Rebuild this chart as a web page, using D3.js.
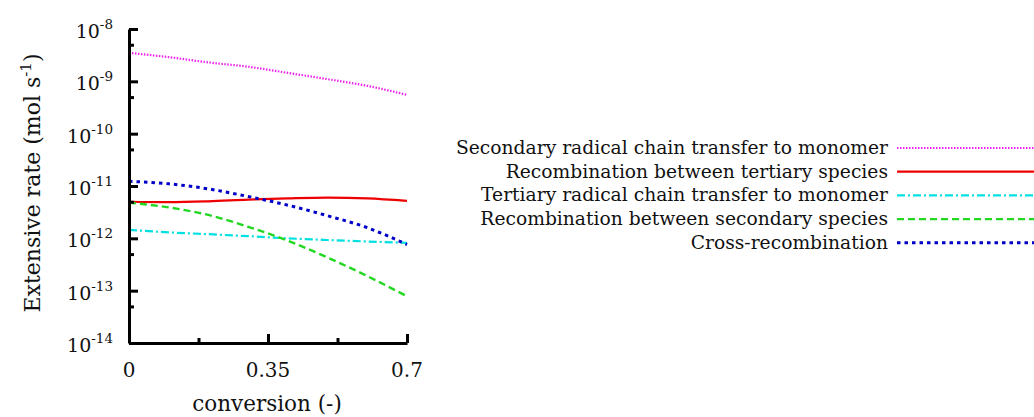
<!DOCTYPE html>
<html>
<head>
<meta charset="utf-8">
<script src="https://cdn.jsdelivr.net/npm/d3@7"></script>
<style>
  body { margin: 0; background: #fff; }
  svg { display: block; }
  text { font-family: "DejaVu Serif", serif; fill: #111; }
</style>
</head>
<body>
<svg id="chart" width="1034" height="417"></svg>
<script>
// Data
const conversion = [0, 0.1, 0.2, 0.3, 0.4, 0.5, 0.6, 0.7];

const secTransfer = [3.5e-9, 2.9e-9, 2.3e-9, 1.9e-9, 1.45e-9, 1.1e-9, 8.2e-10, 5.5e-10];
const terRecomb = [5.0e-12, 4.9e-12, 5.1e-12, 5.5e-12, 5.8e-12, 6.0e-12, 5.8e-12, 5.2e-12];
const terTransfer = [1.45e-12, 1.3e-12, 1.2e-12, 1.1e-12, 1.0e-12, 9.3e-13, 8.7e-13, 8.2e-13];
const secRecomb = [4.8e-12, 3.9e-12, 2.8e-12, 1.66e-12, 9.0e-13, 4.3e-13, 1.9e-13, 7.8e-14];
const crossRecomb = [1.23e-11, 1.1e-11, 8.8e-12, 6.3e-12, 4.3e-12, 2.7e-12, 1.6e-12, 7.6e-13];

const seriesNames = [
  "Secondary radical chain transfer to monomer",
  "Recombination between tertiary species",
  "Tertiary radical chain transfer to monomer",
  "Recombination between secondary species",
  "Cross-recombination"
];

const yTickExps = [-8, -9, -10, -11, -12, -13, -14];
const xTicks = [0, 0.35, 0.7];
const xTickLabels = ["0", "0.35", "0.7"];

// styles per series
const styles = [
  {color: "#ee22ee", dash: "1.5,1.5", width: 2.2},
  {color: "#ee0000", dash: null, width: 2.2},
  {color: "#00e0e0", dash: "8,3,2,3", width: 2.2},
  {color: "#22d822", dash: "7,4", width: 2.4},
  {color: "#0000c8", dash: "3.5,4", width: 3}
];

const seriesValues = [secTransfer, terRecomb, terTransfer, secRecomb, crossRecomb];

const svg = d3.select("#chart");

const x = d3.scaleLinear().domain([0, 0.7]).range([129, 407]);
const y = d3.scaleLog().domain([1e-14, 1e-8]).range([343, 29]);

// lines
const line = d3.line()
  .x((d) => x(d[0]))
  .y((d) => y(d[1]))
  .curve(d3.curveMonotoneX);

seriesValues.forEach(function(vals, i) {
  svg.append("path")
    .datum(conversion.map((c, k) => [c, vals[k]]))
    .attr("d", line)
    .attr("fill", "none")
    .attr("stroke", styles[i].color)
    .attr("stroke-width", styles[i].width)
    .attr("stroke-dasharray", styles[i].dash);
});

// y axis (ticks pointing inward)
svg.append("g")
  .attr("transform", "translate(129,0)")
  .call(d3.axisLeft(y)
    .tickValues(yTickExps.map((e) => Math.pow(10, e)))
    .tickSizeInner(-9).tickSizeOuter(0)
    .tickFormat(""));
const yMinor = svg.append("g")
  .attr("transform", "translate(129,0)")
  .call(d3.axisLeft(y)
    .tickValues(yTickExps.slice(1).map((e) => 5 * Math.pow(10, e)))
    .tickSizeInner(-5).tickSizeOuter(0)
    .tickFormat(""));
yMinor.select(".domain").remove();

// x axis
svg.append("g")
  .attr("transform", "translate(0,343)")
  .call(d3.axisBottom(x)
    .tickValues(xTicks)
    .tickSizeInner(-9).tickSizeOuter(0)
    .tickFormat(""));
const xMinor = svg.append("g")
  .attr("transform", "translate(0,343)")
  .call(d3.axisBottom(x)
    .tickValues([0.175, 0.525])
    .tickSizeInner(-5).tickSizeOuter(0)
    .tickFormat(""));
xMinor.select(".domain").remove();

svg.selectAll(".domain").attr("stroke", "#000").attr("stroke-width", 3);
svg.selectAll(".tick line").attr("stroke", "#000").attr("stroke-width", 3);

// y tick labels with superscripts
yTickExps.forEach(function(e) {
  const t = svg.append("text")
    .attr("x", 113)
    .attr("y", y(Math.pow(10, e)) + 9)
    .attr("text-anchor", "end")
    .style("font-size", "19px");
  t.append("tspan").text("10");
  t.append("tspan").attr("dy", -9).style("font-size", "13.5px").text("-" + Math.abs(e));
});

// x tick labels
xTicks.forEach(function(v, i) {
  svg.append("text")
    .attr("x", x(v))
    .attr("y", 377)
    .attr("text-anchor", "middle")
    .style("font-size", "20px")
    .text(xTickLabels[i]);
});

// axis titles
svg.append("text")
  .attr("x", 267)
  .attr("y", 411)
  .attr("text-anchor", "middle")
  .style("font-size", "21.5px")
  .text("conversion (-)");

const yt = svg.append("text")
  .attr("transform", "translate(40,183) rotate(-90)")
  .attr("text-anchor", "middle")
  .style("font-size", "22px");
yt.append("tspan").text("Extensive rate (mol s");
yt.append("tspan").attr("dy", -9).style("font-size", "15px").text("-1");
yt.append("tspan").attr("dy", 9).text(")");

// legend
const legend = svg.append("g");
seriesNames.forEach(function(name, i) {
  const ly = 148 + i * 23.7;
  legend.append("text")
    .attr("x", 888)
    .attr("y", ly + 6)
    .attr("text-anchor", "end")
    .style("font-size", "18.7px")
    .text(name);
  legend.append("line")
    .attr("x1", 897).attr("x2", 1040)
    .attr("y1", ly).attr("y2", ly)
    .attr("stroke", styles[i].color)
    .attr("stroke-width", styles[i].width)
    .attr("stroke-dasharray", styles[i].dash);
});
</script>
</body>
</html>
